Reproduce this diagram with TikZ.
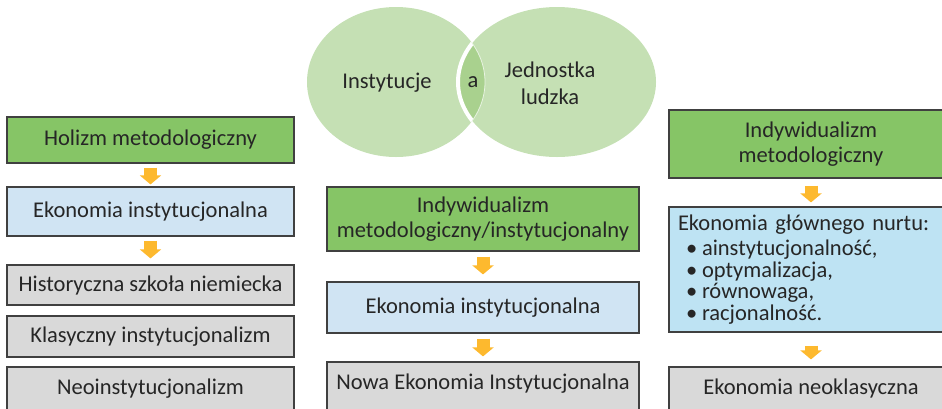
\documentclass[tikz,border=0pt]{standalone}
\usepackage{fontspec}
\setmainfont{Carlito}
\usetikzlibrary{arrows.meta,shapes.geometric}
\definecolor{gbox}{HTML}{86C566}
\definecolor{bboxL}{HTML}{D0E4F3}
\definecolor{bboxR}{HTML}{BEE3F3}
\definecolor{gray}{HTML}{D9D9D9}
\definecolor{bord}{HTML}{404040}
\definecolor{txt}{HTML}{262626}
\definecolor{ven}{HTML}{C5E0B4}
\definecolor{lens}{HTML}{A9D18E}
\definecolor{arrc}{HTML}{FDB92E}
\begin{document}
\begin{tikzpicture}[x=1pt,y=-1pt,
  box/.style={draw=bord, line width=1.2pt, inner sep=0pt, text=txt, align=center,
    font=\fontsize{22.5}{25}\selectfont},
  cutbox/.style={box, minimum height=56pt, text height=15pt, text depth=17pt},
  arr/.style={draw=arrc, line width=13pt, -{Triangle[width=21pt,length=9pt]}},
  vtext/.style={text=txt, align=center, font=\fontsize{22.5}{27}\selectfont}]
\useasboundingbox (0,0) rectangle (942,408);
\clip (0,0) rectangle (942,408);
% Venn
\fill[ven] (396,82) ellipse [x radius=89, y radius=75];
\fill[ven] (557,82) ellipse [x radius=99, y radius=75];
\begin{scope}
  \clip (396,82) ellipse [x radius=89, y radius=75];
  \fill[lens] (557,82) ellipse [x radius=99, y radius=75];
  \draw[white, line width=4pt] (557,82) ellipse [x radius=99, y radius=75];
\end{scope}
\begin{scope}
  \clip (557,82) ellipse [x radius=99, y radius=75];
  \draw[white!60!ven, line width=0.8pt] (396,82) ellipse [x radius=89, y radius=75];
\end{scope}
\node[vtext] (inst) at (387,83) {Instytucje};
\node[vtext] (a) at (473,82) {a};
\node[vtext] (jedn) at (550,83) {Jednostka\\ludzka};
% Left column
\node[box, fill=gbox, minimum width=287pt, minimum height=46pt] (holizm) at (150.5,140) {Holizm metodologiczny};
\node[box, fill=bboxL, minimum width=287pt, minimum height=49pt] (ekL) at (150.5,211.5) {Ekonomia instytucjonalna};
\node[box, fill=gray, minimum width=287pt, minimum height=40pt] (hist) at (150.5,285) {Historyczna szkoła niemiecka};
\node[box, fill=gray, minimum width=287pt, minimum height=41pt] (klas) at (150.5,336.5) {Klasyczny instytucjonalizm};
\node[cutbox, fill=gray, minimum width=287pt] (neo) at (150.5,395) {Neoinstytucjonalizm};
% Middle column
\node[box, fill=gbox, minimum width=312pt, minimum height=64pt] (indM) at (483,219) {Indywidualizm\\metodologiczny/instytucjonalny};
\node[box, fill=bboxL, minimum width=312pt, minimum height=51pt] (ekM) at (483,307.5) {Ekonomia instytucjonalna};
\node[cutbox, fill=gray, minimum width=312pt] (nowa) at (483,390) {Nowa Ekonomia Instytucjonalna};
% Right column
\node[box, fill=gbox, minimum width=284pt, minimum height=68pt] (indR) at (811,144) {Indywidualizm\\metodologiczny};
\node[box, fill=bboxR, minimum width=284pt, minimum height=125pt, inner xsep=9pt, text width=266pt, align=left,
  font=\fontsize{22.5}{21.5}\selectfont] (ekR) at (811,269.5)
  {Ekonomia głównego nurtu:\\[4pt]
   \hspace*{8pt}\makebox[16pt][l]{•}ainstytucjonalność,\\
   \hspace*{8pt}\makebox[16pt][l]{•}optymalizacja,\\
   \hspace*{8pt}\makebox[16pt][l]{•}równowaga,\\
   \hspace*{8pt}\makebox[16pt][l]{•}racjonalność.};
\node[cutbox, fill=gray, minimum width=284pt] (neoR) at (811,395) {Ekonomia neoklasyczna};
% Arrows
\draw[arr, shorten <=4pt, shorten >=2pt] (holizm.south) -- (ekL.north);
\draw[arr, shorten <=4pt, shorten >=6pt] (ekL.south) -- (hist.north);
\draw[arr, shorten <=5pt, shorten >=7pt] (indM.south) -- (ekM.north);
\draw[arr, shorten <=5pt, shorten >=5pt] (ekM.south) -- (nowa.north);
\draw[arr, shorten <=7pt, shorten >=4pt] (indR.south) -- (ekR.north);
\draw[arr, shorten <=13pt, shorten >=7pt] (ekR.south) -- (neoR.north);
\end{tikzpicture}
\end{document}
